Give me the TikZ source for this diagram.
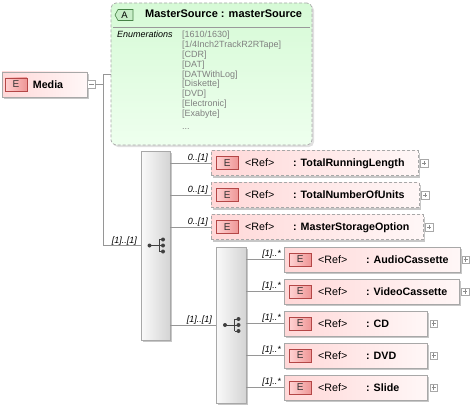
\documentclass[tikz,border=0pt]{standalone}
\usepackage{fontspec}
\setmainfont{Liberation Sans}
\usetikzlibrary{shadows}
\definecolor{pinkL}{RGB}{255,216,216}
\definecolor{pinkR}{RGB}{255,247,247}
\definecolor{ebadgeL}{RGB}{255,210,210}
\definecolor{ebadgeR}{RGB}{238,150,150}
\definecolor{ebadgeD}{RGB}{180,70,70}
\definecolor{greenT}{RGB}{214,250,214}
\definecolor{greenB}{RGB}{238,255,238}
\definecolor{abadgeF}{RGB}{200,238,200}
\definecolor{abadgeD}{RGB}{70,130,70}
\definecolor{lineC}{RGB}{150,150,150}
\definecolor{boxD}{RGB}{168,168,168}
\definecolor{seqL}{RGB}{250,250,250}
\definecolor{seqR}{RGB}{212,212,212}
\definecolor{enumC}{RGB}{128,128,128}
\newcommand\fs[1]{\fontsize{#1}{#1}\selectfont}
\newcommand\xelem[7]{% name, style, x, y, width, label, expander gap
  \node[#2, minimum width=#5pt] (#1) at (#3,#4) {};
  \node[ebadge, anchor=west] (#1-e) at ([xshift=5pt]#1.west) {E};
  \node[reftext] (#1-r) at ([xshift=34pt,yshift=-3.8pt]#1.west) {<Ref>};
  \node[nametext] (#1-n) at ([xshift=82pt,yshift=-3.8pt]#1.west) {: #6};
  \node[expander, anchor=west] (#1-x) at ([xshift=#7pt]#1.east) {};
  \draw[plusline] ([xshift=-2.2pt]#1-x.center) -- ([xshift=2.2pt]#1-x.center)
                  ([yshift=-2.2pt]#1-x.center) -- ([yshift=2.2pt]#1-x.center);
}
\newcommand\xseqicon[1]{%
  \draw[iconline] ([xshift=-6pt]#1.center) -- ([xshift=3.5pt]#1.center);
  \draw[iconline] ([xshift=3.5pt,yshift=6pt]#1.center) -- ([xshift=3.5pt,yshift=-6pt]#1.center);
  \draw[iconline] ([xshift=3.5pt,yshift=6pt]#1.center) -- ([xshift=7.5pt,yshift=6pt]#1.center);
  \draw[iconline] ([xshift=3.5pt,yshift=-6pt]#1.center) -- ([xshift=7.5pt,yshift=-6pt]#1.center);
  \draw[iconline] ([xshift=3.5pt]#1.center) -- ([xshift=7.5pt]#1.center);
  \fill[icondot] ([xshift=-6pt]#1.center) circle (2pt);
  \fill[icondot] ([xshift=7.5pt,yshift=6pt]#1.center) circle (2pt);
  \fill[icondot] ([xshift=7.5pt]#1.center) circle (2pt);
  \fill[icondot] ([xshift=7.5pt,yshift=-6pt]#1.center) circle (2pt);
}
\begin{document}
\begin{tikzpicture}[x=1pt,y=-1pt,
  conn/.style={draw=lineC, line width=0.8pt},
  shad/.style={drop shadow={shadow xshift=2pt,shadow yshift=-2pt,fill=black!22,opacity=1}},
  elembox/.style={rectangle, draw=boxD, line width=0.7pt, left color=pinkL, right color=pinkR,
    minimum height=25pt, inner sep=0pt, anchor=west, shad},
  optbox/.style={elembox, dash pattern=on 3pt off 2pt},
  ebadge/.style={rectangle, draw=ebadgeD, line width=0.6pt, left color=ebadgeL, right color=ebadgeR,
    minimum width=22pt, minimum height=13pt, inner sep=0pt, font=\fs{10}, text=black!80},
  reftext/.style={anchor=base west, inner sep=0pt, font=\fs{10.7}},
  nametext/.style={anchor=base west, inner sep=0pt, font=\bfseries\fs{10.7}},
  expander/.style={rectangle, draw=boxD, fill=white, minimum size=7.5pt, inner sep=0pt, line width=0.5pt},
  plusline/.style={draw=black!45, line width=0.5pt},
  card/.style={anchor=base east, inner sep=0pt, font=\itshape\fs{9}},
  seqbox/.style={rectangle, draw=boxD, line width=0.7pt, left color=seqL, right color=seqR,
    inner sep=0pt, shad},
  iconline/.style={draw=black!75, line width=0.8pt},
  icondot/.style={fill=black!75},
  attrbox/.style={rectangle, rounded corners=5pt, draw=boxD, line width=0.7pt,
    dash pattern=on 3pt off 2pt, top color=greenT, bottom color=greenB, inner sep=0pt,
    drop shadow={shadow xshift=2pt,shadow yshift=-2pt,fill=black!12,opacity=1}},
  abadge/.style={draw=abadgeD, fill=abadgeF, line width=0.6pt},
  enumtext/.style={anchor=base west, inner sep=0pt, font=\fs{9}, text=enumC}
]
\useasboundingbox (0,0) rectangle (470,409);

% Media
\node[elembox, minimum width=85pt, anchor=center] (media) at (44.5,84.5) {};
\node[ebadge, anchor=west] (media-e) at ([xshift=3pt]media.west) {E};
\node[nametext] (media-n) at ([xshift=31pt,yshift=-3.8pt]media.west) {Media};
\node[expander, anchor=west] (media-x) at (media.east) {};
\draw[plusline] ([xshift=-2.2pt]media-x.center) -- ([xshift=2.2pt]media-x.center);

% attribute
\node[attrbox, minimum width=201pt, minimum height=142pt] (attr) at (211.5,74) {};
\draw[abadge] (118,9.5) -- (133,9.5) -- (133,20.5) -- (118,20.5) -- (115,15) -- cycle;
\node[inner sep=0pt, font=\fs{9.5}] (attr-a) at (124.5,15.2) {A};
\node[nametext, font=\bfseries\fs{11}] (attr-t) at (145,18) {MasterSource : masterSource};
\draw[draw=black!40, line width=0.6pt] (113,27) -- (310,27);
\node[enumtext, font=\itshape\fs{9}, text=black] (attr-en) at (117,38) {Enumerations};
\foreach \v [count=\i from 0] in {[1610/1630],[1/4Inch2TrackR2RTape],[CDR],[DAT],[DATWithLog],[Diskette],[DVD],[Electronic],[Exabyte]}
  \node[enumtext] (attr-v\i) at (182,38+9.8*\i) {\v};
\node[enumtext] (attr-dots) at (182,129) {...};

% sequences
\node[seqbox, minimum width=29pt, minimum height=189pt] (seq1) at (155.5,245.5) {};
\node[seqbox, minimum width=30pt, minimum height=156pt] (seq2) at (231,325) {};
\xseqicon{seq1}
\xseqicon{seq2}

% elements
\xelem{e1}{optbox}{211}{163}{207}{TotalRunningLength}{1.5}
\xelem{e2}{optbox}{211}{195}{208}{TotalNumberOfUnits}{1.5}
\xelem{e3}{optbox}{211}{227}{212}{MasterStorageOption}{1.5}
\xelem{c1}{elembox}{284}{259.5}{176}{AudioCassette}{1}
\xelem{c2}{elembox}{284}{291.5}{175}{VideoCassette}{1.5}
\xelem{c3}{elembox}{284}{323.5}{143}{CD}{2}
\xelem{c4}{elembox}{284}{355.5}{143}{DVD}{2}
\xelem{c5}{elembox}{284}{387.5}{143}{Slide}{2}

% connectors
\coordinate (jt) at (103,74);
\coordinate (jb) at (103,245.5);
\draw[conn] (media-x.east) -- (jt |- media-x);
\draw[conn] (attr.west |- jt) -- (jt) -- (jb) -- (seq1.west);
\node[card] (l0) at (137,243) {[1]..[1]};
\foreach \e in {e1,e2,e3}{
  \draw[conn] (seq1.east |- \e.west) -- (\e.west);
  \node[card] (\e-card) at ([xshift=-3pt,yshift=3pt]\e.west) {0..[1]};
}
\draw[conn] (seq1.east |- seq2.west) -- (seq2.west);
\node[card] (l1) at (212,322) {[1]..[1]};
\foreach \e in {c1,c2,c3,c4,c5}{
  \draw[conn] (seq2.east |- \e.west) -- (\e.west);
  \node[card] (\e-card) at ([xshift=-3pt,yshift=3pt]\e.west) {[1]..*};
}
\end{tikzpicture}
\end{document}
